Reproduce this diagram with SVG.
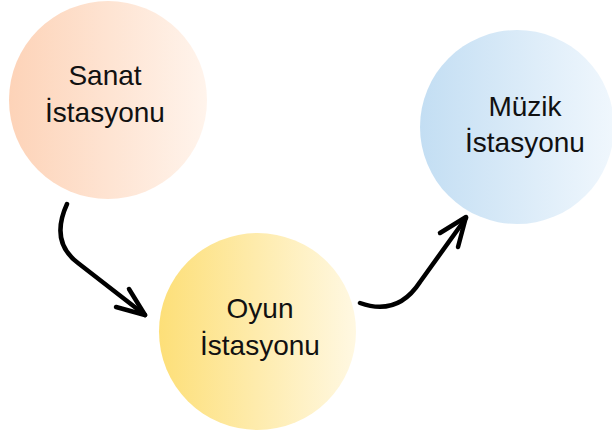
<svg xmlns="http://www.w3.org/2000/svg" width="612" height="438" viewBox="0 0 612 438">
  <defs>
    <linearGradient id="gSanat" x1="0" y1="0" x2="1" y2="0">
      <stop offset="0" stop-color="#FDD3B8"/>
      <stop offset="1" stop-color="#FFF4EC"/>
    </linearGradient>
    <linearGradient id="gOyun" x1="0" y1="0" x2="1" y2="0">
      <stop offset="0" stop-color="#FDDF78"/>
      <stop offset="1" stop-color="#FFF8E2"/>
    </linearGradient>
    <linearGradient id="gMuzik" x1="0" y1="0" x2="1" y2="0">
      <stop offset="0" stop-color="#C3DEF3"/>
      <stop offset="1" stop-color="#F0F7FD"/>
    </linearGradient>
  </defs>
  <style>
    .lbl { font-family: "Liberation Sans", Arial, sans-serif; font-size: 28px; fill: #111111; text-anchor: middle; }
    .conn { fill: none; stroke: #000000; stroke-width: 4.5; stroke-linecap: round; stroke-linejoin: round; }
  </style>
  <rect width="612" height="438" fill="#ffffff"/>
  <g id="sanat">
    <circle cx="108" cy="100" r="99" fill="url(#gSanat)"/>
    <text class="lbl" x="105" y="85">Sanat</text>
    <text class="lbl" x="105" y="122">İstasyonu</text>
  </g>
  <g id="oyun">
    <circle cx="257.5" cy="331.5" r="98.5" fill="url(#gOyun)"/>
    <text class="lbl" x="260" y="318">Oyun</text>
    <text class="lbl" x="260" y="355">İstasyonu</text>
  </g>
  <g id="muzik">
    <circle cx="517" cy="127" r="97" fill="url(#gMuzik)"/>
    <text class="lbl" x="525" y="116">Müzik</text>
    <text class="lbl" x="525" y="152">İstasyonu</text>
  </g>
  <g id="connectors">
    <path class="conn" d="M67,204 C56,228 58,248 78,263 L145,315"/>
    <path class="conn" d="M129,289 L145,315 L116,307"/>
    <path class="conn" d="M360,303 C385,312 405,305 420,282 L466,218"/>
    <path class="conn" d="M440,233 L466,217 L458,247"/>
  </g>
</svg>
